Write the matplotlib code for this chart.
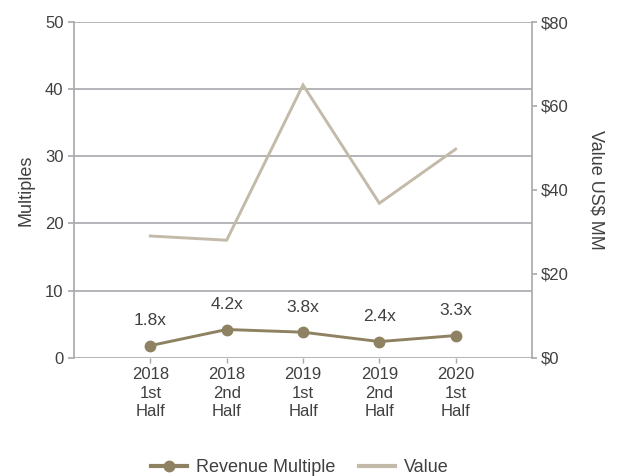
import matplotlib
matplotlib.use("Agg")
import matplotlib.pyplot as plt
from matplotlib.lines import Line2D

plt.rcParams['font.family'] = ['Liberation Sans', 'DejaVu Sans']

# Data
periods = ["2018\n1st\nHalf", "2018\n2nd\nHalf", "2019\n1st\nHalf", "2019\n2nd\nHalf", "2020\n1st\nHalf"]
revenue_multiple = [1.8, 4.2, 3.8, 2.4, 3.3]
value_usd_mm = [29.0, 28.0, 65.0, 36.8, 49.7]
multiple_ticks = [0, 10, 20, 30, 40, 50]
value_ticks = [0, 20, 40, 60, 80]

GRID = "#A8A8AD"
TEXT = "#404040"
MULT_COLOR = "#8F8263"
VALUE_COLOR = "#C4BAAA"

fig = plt.figure(figsize=(6.26, 4.76), dpi=100)
ax = fig.add_axes([74 / 626, 1 - 357.7 / 476, (532 - 74) / 626, (357.7 - 22) / 476])
ax2 = ax.twinx()

x = list(range(len(periods)))

# Value line on the secondary axis
ax2.plot(x, value_usd_mm, color=VALUE_COLOR, lw=2.1, solid_joinstyle='miter', zorder=3)

# Revenue multiple line with markers
ax.plot(x, revenue_multiple, color=MULT_COLOR, lw=2.1, marker='o', markersize=7.5,
        zorder=4)
for xi, v in zip(x, revenue_multiple):
    ax.annotate(f"{v:.1f}x", (xi, v), xytext=(0, 12.5), textcoords='offset points',
                ha='center', va='bottom', fontsize=12.5, color=TEXT)

ax.set_xlim(-1, len(periods))
ax.set_ylim(0, 50)
ax2.set_ylim(0, 80)
ax.set_yticks(multiple_ticks)
ax.set_yticklabels([str(t) for t in multiple_ticks])
ax2.set_yticks(value_ticks)
ax2.set_yticklabels([f"${t}" for t in value_ticks])
ax.set_xticks(x)
ax.set_xticklabels(periods, linespacing=1.28)

ax.grid(axis='y', color=GRID, lw=1.2, zorder=0)
ax.set_axisbelow(True)

for a in (ax, ax2):
    for side in ('top', 'bottom'):
        a.spines[side].set_visible(False)
    a.spines['left'].set_color(GRID)
    a.spines['right'].set_color(GRID)
    a.spines['left'].set_linewidth(1.2)
    a.spines['right'].set_linewidth(1.2)
ax.spines['right'].set_visible(False)
ax2.spines['left'].set_visible(False)

ax.tick_params(axis='y', length=4.3, width=1.2, color=GRID, pad=3.2, labelsize=12, labelcolor=TEXT)
ax.tick_params(axis='x', length=3.5, width=1.0, color=GRID, pad=3.5, labelsize=12, labelcolor=TEXT)
ax2.tick_params(axis='y', length=3.5, width=1.2, color=GRID, pad=3, labelsize=12, labelcolor=TEXT)

ax.set_ylabel("Multiples", fontsize=13, color=TEXT)
ax2.set_ylabel("Value US$ MM", fontsize=13, color=TEXT, rotation=270, labelpad=25.5)
ax.yaxis.set_label_coords(-39 / 458, 0.5)

handles = [
    Line2D([0], [0], color=MULT_COLOR, lw=3.0, marker='o', markersize=7.5),
    Line2D([0], [0], color=VALUE_COLOR, lw=3.0),
]
fig.legend(handles, ["Revenue Multiple", "Value"], loc='center', ncol=2,
           bbox_to_anchor=(300 / 626, 8 / 476), frameon=False, fontsize=13,
           handlelength=2.0, handletextpad=0.5, columnspacing=1.3,
           labelcolor=TEXT)

fig.savefig("out.png", dpi=100)
